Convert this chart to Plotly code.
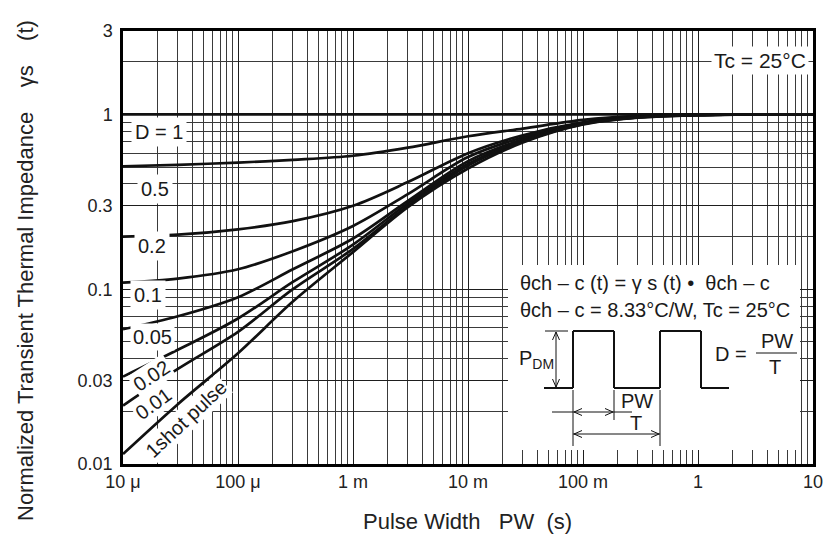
import plotly.graph_objects as go

# ---------------- data ----------------
pulse_width = [1e-5, 3e-5, 1e-4, 3e-4, 1e-3, 3e-3, 1e-2, 3e-2, 1e-1, 3e-1, 1, 3, 10]

gamma_d1 = [1.0, 1.0, 1.0, 1.0, 1.0, 1.0, 1.0, 1.0, 1.0, 1.0, 1.0, 1.0, 1.0]
gamma_d05 = [0.505, 0.515, 0.53, 0.55, 0.58, 0.645, 0.75, 0.83, 0.93, 0.98, 0.995, 1.0, 1.0]
gamma_d02 = [0.2, 0.205, 0.22, 0.245, 0.3, 0.41, 0.6, 0.76, 0.9, 0.97, 0.995, 1.0, 1.0]
gamma_d01 = [0.109, 0.115, 0.13, 0.165, 0.23, 0.35, 0.57, 0.74, 0.895, 0.968, 0.994, 1.0, 1.0]
gamma_d005 = [0.059, 0.07, 0.09, 0.13, 0.195, 0.32, 0.54, 0.72, 0.89, 0.965, 0.993, 1.0, 1.0]
gamma_d002 = [0.0316, 0.045, 0.068, 0.11, 0.18, 0.31, 0.52, 0.71, 0.885, 0.962, 0.992, 1.0, 1.0]
gamma_d001 = [0.0216, 0.035, 0.057, 0.1, 0.17, 0.30, 0.51, 0.70, 0.88, 0.96, 0.99, 1.0, 1.0]
gamma_single = [0.0114, 0.022, 0.043, 0.085, 0.163, 0.295, 0.49, 0.69, 0.875, 0.958, 0.99, 1.0, 1.0]

series_names = ["D = 1", "0.5", "0.2", "0.1", "0.05", "0.02", "0.01", "1shot pulse"]
series_values = [gamma_d1, gamma_d05, gamma_d02, gamma_d01, gamma_d005,
                 gamma_d002, gamma_d001, gamma_single]

x_tick_vals = [1e-5, 1e-4, 1e-3, 1e-2, 1e-1, 1, 10]
x_tick_text = ["10 μ", "100 μ", "1 m", "10 m", "100 m", "1", "10"]
y_tick_vals = [0.01, 0.03, 0.1, 0.3, 1, 3]
y_tick_text = ["0.01", "0.03", "0.1", "0.3", "1", "3"]

# ---------------- layout geometry ----------------
W, H = 828, 541
L, R, T, B = 123, 813, 31, 464
FONT = "Liberation Sans, Arial, sans-serif"


def px(x):
    return (x - L) / (R - L)


def py(y):
    return (B - y) / (B - T)


fig = go.Figure()
for name, vals in zip(series_names, series_values):
    fig.add_trace(go.Scatter(
        x=pulse_width, y=vals, mode="lines", name=name,
        line=dict(color="#111111", width=2.7, shape="spline", smoothing=0.9),
        showlegend=False, hoverinfo="skip"))

grid_c = "#1e1e1e"
fig.update_xaxes(
    type="log", range=[-5, 1], tickvals=x_tick_vals, ticktext=x_tick_text,
    showgrid=True, gridcolor=grid_c, gridwidth=1, automargin=False,
    minor=dict(dtick="D1", showgrid=True, gridcolor="#3a3a3a", gridwidth=1, ticks=""),
    showline=True, linecolor="black", linewidth=2.5, mirror=True, ticks="",
    tickfont=dict(family=FONT, size=18, color="#222"), zeroline=False)
fig.update_yaxes(
    type="log", range=[-2, 0.47712], tickvals=y_tick_vals, ticktext=y_tick_text,
    showgrid=True, gridcolor=grid_c, gridwidth=1, automargin=False,
    minor=dict(dtick="D1", showgrid=True, gridcolor="#3a3a3a", gridwidth=1, ticks=""),
    showline=True, linecolor="black", linewidth=2.5, mirror=True,
    ticks="outside", ticklen=4, tickcolor="rgba(0,0,0,0)",
    tickfont=dict(family=FONT, size=18, color="#222"), zeroline=False)

shapes = []
# white inset panel masking the grid
shapes.append(dict(type="rect", xref="paper", yref="paper",
                   x0=px(508), x1=px(800), y0=py(450), y1=py(265),
                   fillcolor="white", line=dict(width=0), layer="above"))


def seg(x0, y0, x1, y1, w=2):
    return dict(type="line", xref="paper", yref="paper",
                x0=px(x0), y0=py(y0), x1=px(x1), y1=py(y1),
                line=dict(color="#111", width=w), layer="above")


def chevron(hx, hy, dx, dy, size=8, half=3.5):
    # open arrow head at (hx, hy) pointing in direction (dx, dy)
    nx, ny = -dy, dx
    bx, by = hx - dx * size, hy - dy * size
    return [seg(hx, hy, bx + nx * half, by + ny * half, 1),
            seg(hx, hy, bx - nx * half, by - ny * half, 1)]


# pulse train
pulse_pts = [(544, 388), (573, 388), (573, 331), (614, 331), (614, 388),
             (660, 388), (660, 331), (701, 331), (701, 388), (729, 388)]
for (a, b), (c, d) in zip(pulse_pts[:-1], pulse_pts[1:]):
    shapes.append(seg(a, b, c, d, 2))
shapes.append(seg(545, 331, 568, 331, 1))
# P_DM double arrow
shapes.append(seg(556, 332, 556, 387, 1))
shapes += chevron(556, 332, 0, -1) + chevron(556, 387, 0, 1)
# PW dimension
shapes.append(seg(552, 412, 632, 412, 1))
shapes += chevron(574, 412, -1, 0) + chevron(613, 412, 1, 0)
# T dimension
shapes.append(seg(573, 434, 660, 434, 1))
shapes += chevron(574, 434, -1, 0) + chevron(659, 434, 1, 0)
# extension lines
shapes.append(seg(573, 390, 573, 446, 1))
shapes.append(seg(614, 390, 614, 420, 1))
shapes.append(seg(660, 390, 660, 446, 1))
# fraction bar
shapes.append(seg(756, 353, 797, 353, 1))

annotations = []


def txt(x, y, s, size=20, angle=0, bg=None, pad=1, xanchor="center"):
    d = dict(xref="paper", yref="paper", x=px(x), y=py(y), text=s,
             showarrow=False, textangle=angle, xanchor=xanchor, yanchor="middle",
             font=dict(family=FONT, size=size, color="#1a1a1a"))
    if bg:
        d.update(bgcolor=bg, borderpad=pad)
    return d


# curve labels
annotations += [
    txt(159, 132, "D = 1", bg="white", pad=3),
    txt(155, 189, "0.5", bg="white", pad=3),
    txt(152, 246, "0.2", bg="white", pad=3),
    txt(148, 295, "0.1", bg="white", pad=3),
    txt(152, 337, "0.05", bg="white", pad=2),
    txt(151, 376, "0.02", angle=-33, bg="white", pad=1),
    txt(153, 404, "0.01", angle=-36, bg="white", pad=1),
    txt(186, 419, "1shot pulse", angle=-43, bg="white", pad=1),
    txt(760, 60, "Tc = 25°C", size=21, bg="white", pad=2),
]
# inset text
annotations += [
    txt(518, 283, "θch – c (t) = γ s (t) •  θch – c", size=20, xanchor="left"),
    txt(518, 310, "θch – c = 8.33°C/W, Tc = 25°C", size=20, xanchor="left"),
    txt(536, 359, "P<sub>DM</sub>", size=20),
    txt(731, 354, "D =", size=20),
    txt(777, 341, "PW", size=20),
    txt(775, 367, "T", size=20),
    txt(637, 401, "PW", size=20),
    txt(636, 423, "T", size=20),
]
# axis titles
annotations += [
    dict(xref="paper", yref="paper", x=px(467), y=py(521),
         xanchor="center", yanchor="middle",
         text="Pulse Width   PW  (s)", showarrow=False,
         font=dict(family=FONT, size=22, color="#222")),
    dict(xref="paper", yref="paper", x=px(25), y=py(271),
         xanchor="center", yanchor="middle",
         text="Normalized Transient Thermal Impedance    γs    (t)", showarrow=False,
         textangle=-90, font=dict(family=FONT, size=22, color="#222")),
]

fig.update_layout(
    width=W, height=H, paper_bgcolor="white", plot_bgcolor="white",
    margin=dict(l=L, r=W - R, t=T, b=H - B, pad=0, autoexpand=False),
    shapes=shapes, annotations=annotations,
    font=dict(family=FONT, color="#222"),
)

fig.write_html("out.html", config={"displayModeBar": False},
               post_script="document.body.style.margin='0';document.body.style.padding='0';")
